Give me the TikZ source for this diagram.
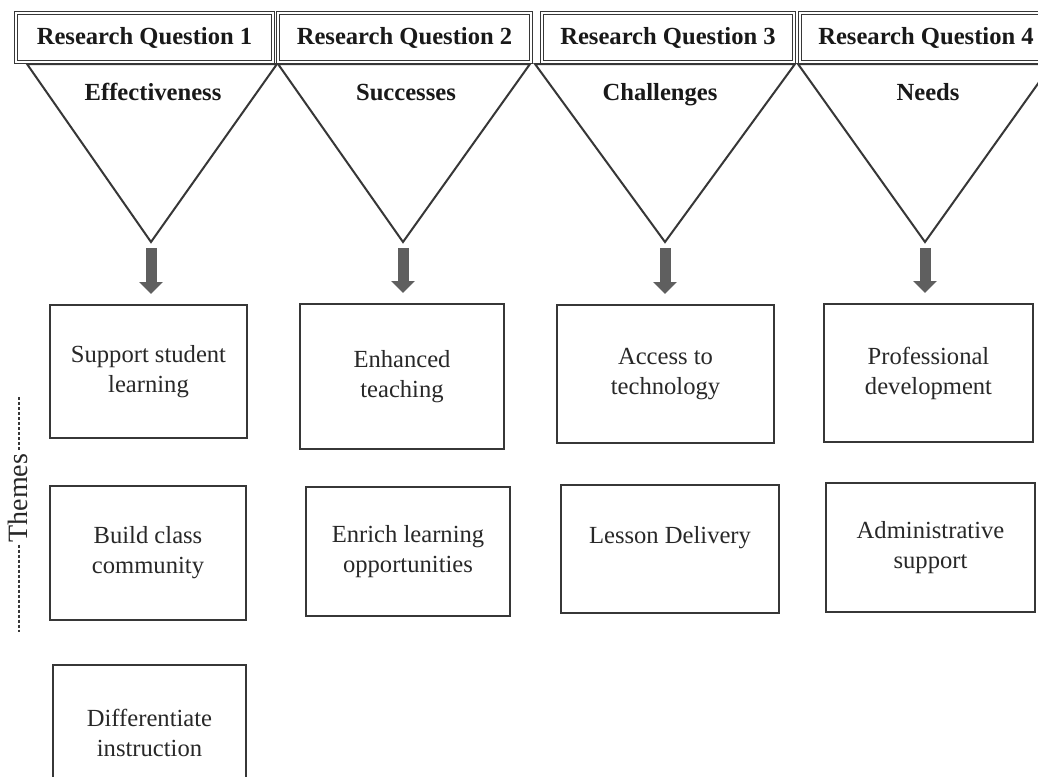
\documentclass[tikz,border=0pt]{standalone}
\usepackage{fontspec}
\setmainfont{Liberation Serif}
\usepackage{xcolor}
\usetikzlibrary{arrows.meta}
\definecolor{linecol}{RGB}{55,55,55}
\definecolor{arrcol}{RGB}{95,95,95}
\definecolor{txtcol}{RGB}{40,40,40}

\begin{document}
\begin{tikzpicture}[
  x=0.5pt, y=-0.5pt,
  hq/.style={draw=linecol, double=white, line width=0.55pt, double distance=0.6pt, inner sep=0pt,
    font=\fontsize{12.3}{15}\selectfont\bfseries, text=black!90, minimum height=24.5pt},
  lbl/.style={font=\fontsize{12.3}{15}\selectfont\bfseries, text=black!90, inner sep=0pt, anchor=base},
  th/.style={draw=linecol, line width=1pt, align=center, inner sep=0pt,
    font=\fontsize{12.3}{15}\selectfont, text=txtcol},
  tri/.style={draw=linecol, line width=1pt},
  e/.style={-{Triangle[width=11.5pt,length=6pt]}, arrcol, line width=5.5pt,
    shorten <=3pt, shorten >=5pt},
  dot/.style={draw=linecol, line width=0.8pt, dash pattern=on 1.5pt off 1pt},
]
\path[use as bounding box, fill=white] (0,0) rectangle (1038,776);

\coordinate (ap1) at (151,242);
\coordinate (ap2) at (403,242);
\coordinate (ap3) at (665,242);
\coordinate (ap4) at (925,242);
\draw[tri] (27,64) -- (277,64) -- (ap1) -- cycle;
\draw[tri] (278,64) -- (530,64) -- (ap2) -- cycle;
\draw[tri] (535,64) -- (795,64) -- (ap3) -- cycle;
\draw[tri] (798,64) -- (1052,64) -- (ap4) -- cycle;

\node[hq, minimum width=128.5pt] (hq1) at (144.5,37.5) {Research Question 1};
\node[hq, minimum width=126.5pt] (hq2) at (404.5,37.5) {Research Question 2};
\node[hq, minimum width=126pt] (hq3) at (668,37.5) {Research Question 3};
\node[hq, minimum width=126pt] (hq4) at (926,37.5) {Research Question 4};

\node[lbl] (eff) at (153,100) {Effectiveness};
\node[lbl] (suc) at (406,100) {Successes};
\node[lbl] (cha) at (660,100) {Challenges};
\node[lbl] (nee) at (928,100) {Needs};

\node[th, minimum width=98.5pt, minimum height=66.5pt] (t11) at (148.5,371.5) {Support student\\learning};
\node[th, minimum width=98pt, minimum height=67pt] (t12) at (148,553) {Build class\\community};
\node[th, minimum width=96.5pt, minimum height=67.5pt] (t13) at (149.5,732.5) {Differentiate\\instruction};
\node[th, minimum width=102pt, minimum height=72.5pt] (t21) at (402,376.5) {Enhanced\\teaching};
\node[th, minimum width=102pt, minimum height=64.5pt] (t22) at (408,551.5) {Enrich learning\\opportunities};
\node[th, minimum width=108.5pt, minimum height=69pt] (t31) at (665.5,374) {Access to\\technology};
\node[th, minimum width=109pt, minimum height=64pt, text depth=14pt] (t32) at (670,549) {Lesson Delivery};
\node[th, minimum width=104.5pt, minimum height=69pt] (t41) at (928.5,373) {Professional\\development};
\node[th, minimum width=104.5pt, minimum height=64.5pt] (t42) at (930.5,547.5) {Administrative\\support};

\draw[e] (ap1) -- (ap1 |- t11.north);
\draw[e] (ap2) -- (ap2 |- t21.north);
\draw[e] (ap3) -- (ap3 |- t31.north);
\draw[e] (ap4) -- (ap4 |- t41.north);

\node[rotate=90, inner sep=1pt, font=\fontsize{14}{16}\selectfont, text=txtcol] (themes) at (18,498) {Themes};
\coordinate (dtop) at (19,397);
\coordinate (dbot) at (19,632);
\draw[dot] (dtop) -- (dtop |- themes.east);
\draw[dot] (dbot |- themes.west) -- (dbot);
\end{tikzpicture}
\end{document}
